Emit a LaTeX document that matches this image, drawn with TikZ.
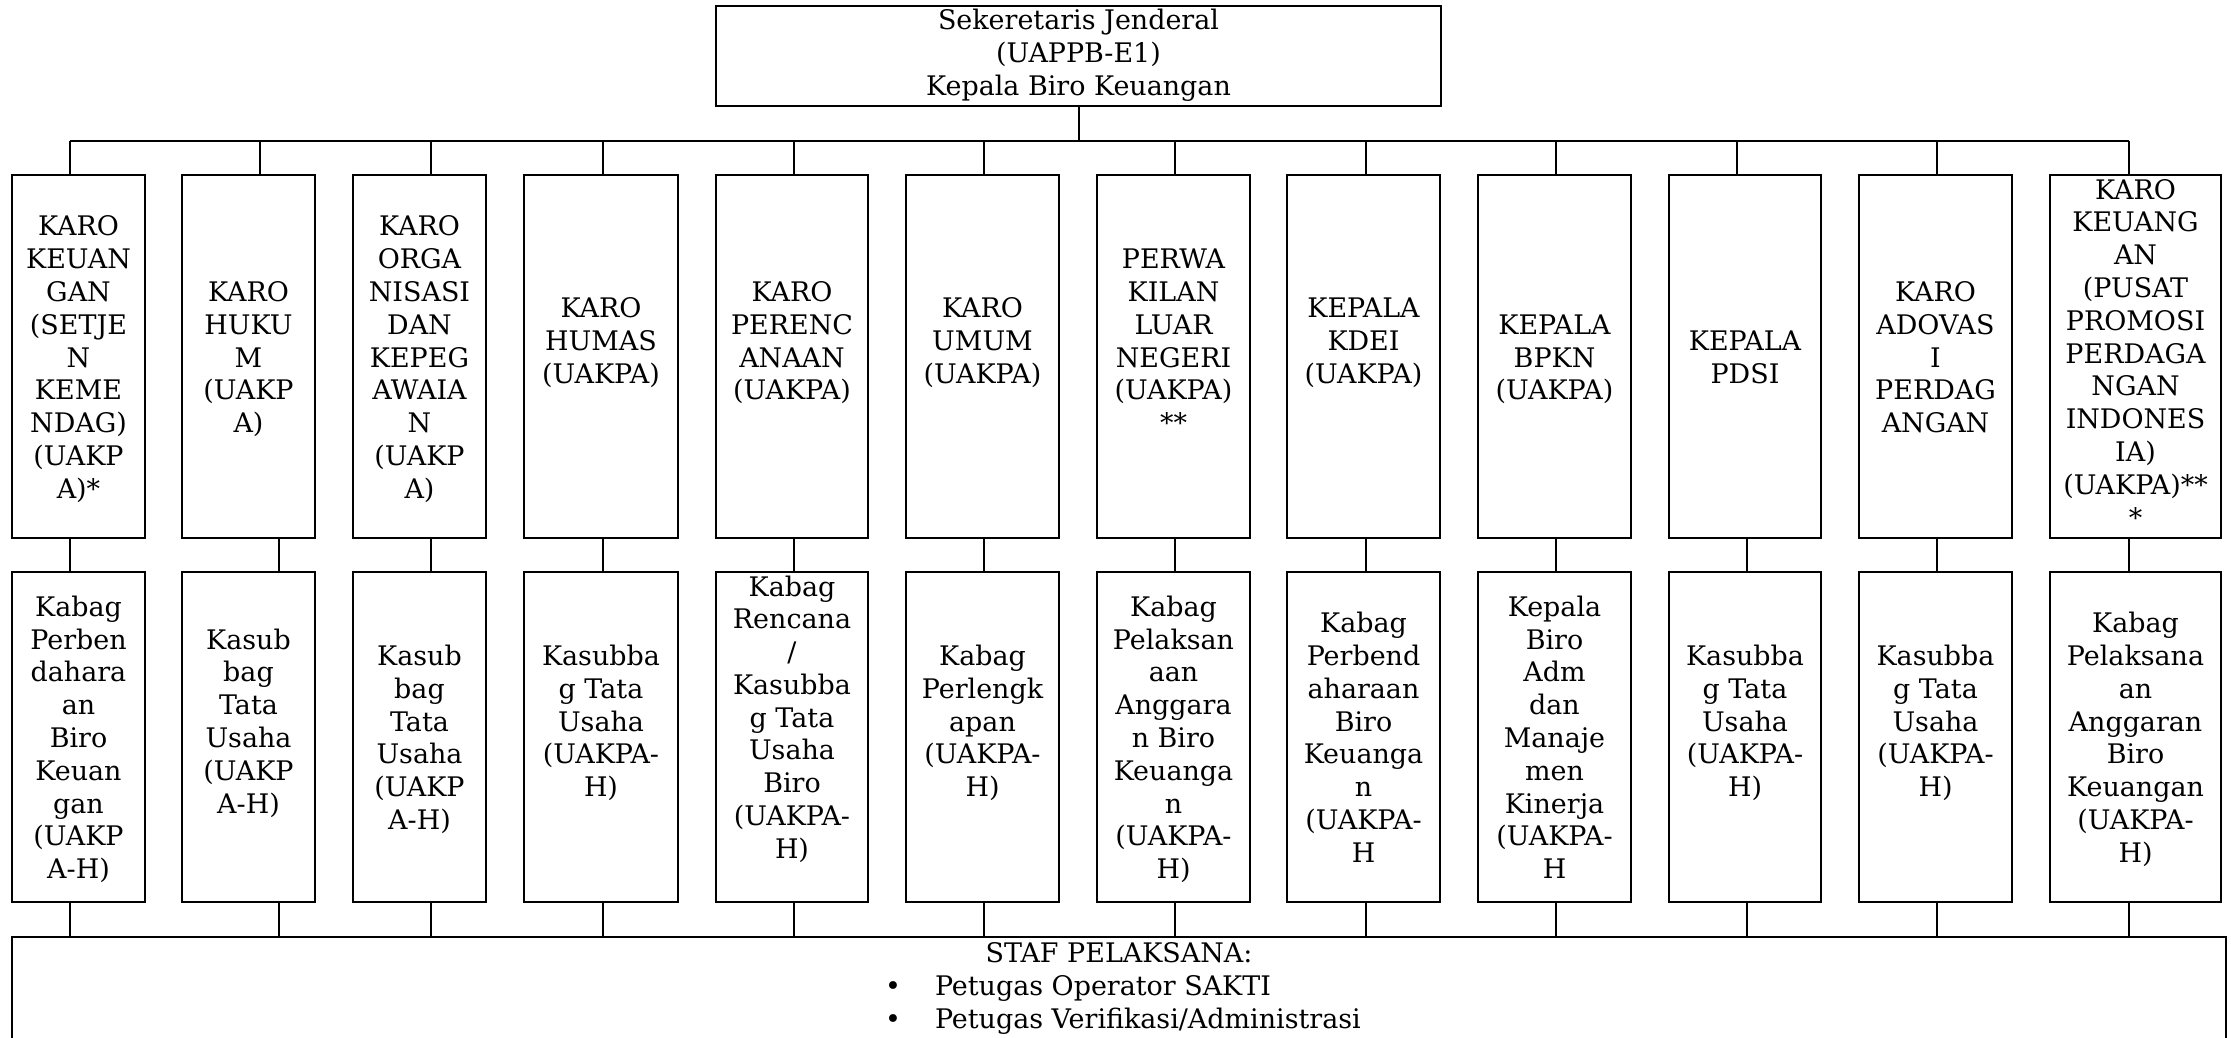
\documentclass[tikz,border=0pt]{standalone}
\usepackage{fontspec}
\setmainfont{DejaVu Serif}
\newcommand\lns[1]{\begin{tabular}{@{}c@{}}#1\end{tabular}}
\newcommand\lnt[1]{\begin{tabular}{@{}c@{}}\rule{0pt}{13.2pt}#1\end{tabular}}
\begin{document}
\begin{tikzpicture}[x=0.427pt,y=-0.427pt,
  line width=0.854pt,
  every node/.style={font=\fontsize{11.5}{14}\selectfont},
  box/.style 2 args={draw, rectangle, inner sep=0pt, outer sep=0pt,
    minimum width=#1*0.427pt, minimum height=#2*0.427pt},
  topbox/.style={box={#1}{363}},
  botbox/.style={box={#1}{330}},
  txt/.style={inner sep=0pt, outer sep=0pt},
  conn/.style={line width=0.854pt}]
\path[use as bounding box, clip] (0,0) rectangle (2231,1037);

% top box
\node[box={725}{100}] (sek) at (1078.5,56) {\lns{Sekeretaris Jenderal\\(UAPPB-E1)\\Kepala Biro Keuangan}};

% row 1
\node[topbox=133] (a1) at (78.5,356.5) {\lnt{KARO\\KEUAN\\GAN\\(SETJE\\N\\KEME\\NDAG)\\(UAKP\\A)*}};
\node[topbox=133] (a2) at (248.5,356.5) {\lnt{KARO\\HUKU\\M\\(UAKP\\A)}};
\node[topbox=133] (a3) at (419.5,356.5) {\lnt{KARO\\ORGA\\NISASI\\DAN\\KEPEG\\AWAIA\\N\\(UAKP\\A)}};
\node[topbox=154] (a4) at (601,356.5) {\lnt{KARO\\HUMAS\\(UAKPA)\\\mbox{}}};
\node[topbox=152] (a5) at (792,356.5) {\lnt{KARO\\PERENC\\ANAAN\\(UAKPA)\\\mbox{}}};
\node[topbox=153] (a6) at (982.5,356.5) {\lnt{KARO\\UMUM\\(UAKPA)\\\mbox{}}};
\node[topbox=153] (a7) at (1173.5,356.5) {\lnt{PERWA\\KILAN\\LUAR\\NEGERI\\(UAKPA)\\{}**\\\mbox{}}};
\node[topbox=153] (a8) at (1363.5,356.5) {\lnt{KEPALA\\KDEI\\(UAKPA)\\\mbox{}}};
\node[topbox=153] (a9) at (1554.5,356.5) {\lnt{KEPALA\\BPKN\\(UAKPA)}};
\node[topbox=152] (a10) at (1745,356.5) {\lnt{KEPALA\\PDSI}};
\node[topbox=153] (a11) at (1935.5,356.5) {\lnt{KARO\\ADOVAS\\I\\PERDAG\\ANGAN}};
\node[topbox=171] (a12) at (2135.5,356.5) {\lns{KARO\\KEUANG\\AN\\(PUSAT\\PROMOSI\\PERDAGA\\NGAN\\INDONES\\IA)\\(UAKPA)**\\{}*}};

% row 2
\node[botbox=133] (b1) at (78.5,737) {\lnt{Kabag\\Perben\\dahara\\an\\Biro\\Keuan\\gan\\(UAKP\\A-H)}};
\node[botbox=133] (b2) at (248.5,737) {\lnt{Kasub\\bag\\Tata\\Usaha\\(UAKP\\A-H)\\\mbox{}}};
\node[botbox=133] (b3) at (419.5,737) {\lnt{Kasub\\bag\\Tata\\Usaha\\(UAKP\\A-H)}};
\node[botbox=154] (b4) at (601,737) {\lnt{Kasubba\\g Tata\\Usaha\\(UAKPA-\\H)\\\mbox{}}};
\node[botbox=152] (b5) at (792,737) {\lns{Kabag\\Rencana\\/\\Kasubba\\g Tata\\Usaha\\Biro\\(UAKPA-\\H)\\\mbox{}}};
\node[botbox=153] (b6) at (982.5,737) {\lnt{Kabag\\Perlengk\\apan\\(UAKPA-\\H)\\\mbox{}}};
\node[botbox=153] (b7) at (1173.5,737) {\lnt{Kabag\\Pelaksan\\aan\\Anggara\\n Biro\\Keuanga\\n\\(UAKPA-\\H)}};
\node[botbox=153] (b8) at (1363.5,737) {\lnt{Kabag\\Perbend\\aharaan\\Biro\\Keuanga\\n\\(UAKPA-\\H}};
\node[botbox=153] (b9) at (1554.5,737) {\lnt{Kepala\\Biro\\Adm\\dan\\Manaje\\men\\Kinerja\\(UAKPA-\\H}};
\node[botbox=152] (b10) at (1745,737) {\lnt{Kasubba\\g Tata\\Usaha\\(UAKPA-\\H)\\\mbox{}}};
\node[botbox=153] (b11) at (1935.5,737) {\lnt{Kasubba\\g Tata\\Usaha\\(UAKPA-\\H)\\\mbox{}}};
\node[botbox=171] (b12) at (2135.5,737) {\lnt{Kabag\\Pelaksana\\an\\Anggaran\\Biro\\Keuangan\\(UAKPA-\\H)}};

% staff box
\node[box={2214}{153}] (staf) at (1119,1013.5) {};
\node[txt, anchor=base] (st) at (1119,962.6) {STAF PELAKSANA:};
\node[txt, anchor=base] (bl1) at (893,995.6) {\textbullet};
\node[txt, anchor=base west] (li1) at (935,995.6) {Petugas Operator SAKTI};
\node[txt, anchor=base] (bl2) at (893,1028.6) {\textbullet};
\node[txt, anchor=base west] (li2) at (935,1028.6) {Petugas Verifikasi/Administrasi};

% bus
\coordinate (busL) at (70,141);
\coordinate (busR) at (2129,141);
\draw[conn] (sek.south) -- (sek.south |- busL);
\draw[conn] (busL) -- (busR);

\foreach \i/\tx/\mx in {1/70/70, 2/260/279, 3/431/431, 4/603/603, 5/794/794,
  6/984/984, 7/1175/1175, 8/1366/1366, 9/1556/1556, 10/1737/1747,
  11/1937/1937, 12/2129/2129}{
  \coordinate (t\i) at (\tx,141);
  \coordinate (m\i) at (\mx,555);
  \draw[conn] (t\i) -- (t\i |- a\i.north);
  \draw[conn] (m\i |- a\i.south) -- (m\i |- b\i.north);
  \draw[conn] (m\i |- b\i.south) -- (m\i |- staf.north);
}
\end{tikzpicture}
\end{document}
